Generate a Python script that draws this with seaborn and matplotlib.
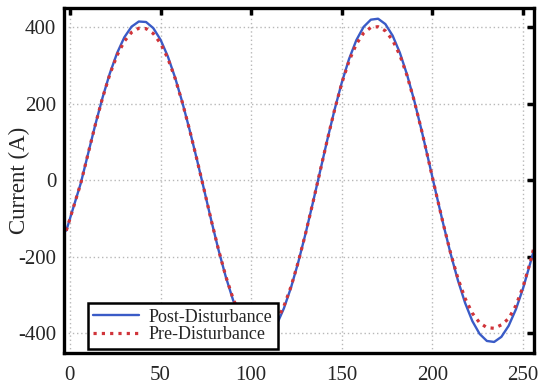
import matplotlib
matplotlib.use("Agg")
import matplotlib.pyplot as plt
import seaborn as sns
import pandas as pd

# sample index
x = [-2, 2, 6, 10, 14, 18, 22, 26, 30, 34, 38, 42, 46, 50, 54, 58, 62, 66, 70,
     74, 78, 82, 86, 90, 94, 98, 102, 106, 110, 114, 118, 122, 126, 130, 134,
     138, 142, 146, 150, 154, 158, 162, 166, 170, 174, 178, 182, 186, 190, 194, 198,
     202, 206, 210, 214, 218, 222, 226, 230, 234, 238, 242, 246, 250, 254, 256]

post = [-132, -70, -8, 68.7, 144.8, 215.7, 278.9, 332.0, 373.3, 401.2, 414.7, 413.4,
        397.4, 367.0, 323.6, 268.4, 203.7, 131.7, 55.0,
        -24.7, -105.9, -183.0, -253.1, -313.6, -361.9, -396.5, -415.9, -419.3,
        -406.6, -378.5, -335.7, -280.2, -213.9, -139.4, -59.5,
        23.0, 105.8, 184.3, 255.7, 317.0, 366.0, 400.6, 419.5, 422.0, 408.0, 377.9,
        333.1, 275.3, 206.7, 129.9, 48.1,
        -34.9, -115.9, -192.4, -261.7, -321.2, -368.6, -402.1, -420.5, -423.1,
        -409.8, -381.0, -338.0, -282.3, -215.9, -182.0]

pre = [-132, -70, -8, 68.7, 144.7, 215.0, 276.5, 326.2, 362.9, 386.3, 397.1, 396.1,
       383.2, 357.4, 318.5, 266.4, 203.2, 131.6, 55.0,
       -24.7, -105.9, -182.6, -251.8, -309.7, -353.9, -383.9, -399.9, -402.6,
       -392.3, -368.5, -330.2, -278.0, -213.3, -139.3, -59.5,
       23.0, 105.8, 184.0, 254.0, 312.0, 355.7, 384.5, 399.2, 401.1, 390.3, 365.9,
       326.7, 272.8, 206.1, 129.9, 48.1,
       -34.9, -115.7, -190.9, -256.5, -309.3, -348.0, -373.0, -385.6, -387.4,
       -378.4, -362.0, -328.0, -278.0, -213.5, -175.0]

xticks = [0, 50, 100, 150, 200, 250]
yticks = [-400, -200, 0, 200, 400]
labels = ["Post-Disturbance", "Pre-Disturbance"]

sns.set_style("white")
plt.rcParams["font.family"] = ["Liberation Serif", "DejaVu Serif"]
plt.rcParams["axes.unicode_minus"] = False

fig = plt.figure(figsize=(5.4, 3.85), dpi=100)
ax = fig.add_axes([0.1194, 0.0831, 0.8695, 0.8961])

df = pd.DataFrame({"x": x, "post": post, "pre": pre})
sns.lineplot(data=df, x="x", y="post", ax=ax, color="#3a5bc7", linewidth=1.7,
             label=labels[0], sort=False)
sns.lineplot(data=df, x="x", y="pre", ax=ax, color="#d0343a", linewidth=2.3,
             linestyle=(0, (1, 1.6)), label=labels[1], sort=False)

ax.set_xlim(-3, 256)
ax.set_ylim(-452, 450)
ax.set_xticks(xticks)
ax.set_yticks(yticks)
ax.set_xlabel("")
ax.set_ylabel("Current (A)", fontsize=16.5)
ax.yaxis.label.set_verticalalignment("center")
ax.yaxis.set_label_coords(-0.095, 0.5)
ax.grid(True, linestyle=(0, (1, 2)), color="#b8b8b8", linewidth=1.0)
ax.tick_params(direction="in", length=5, width=2.5, top=True, right=True,
               labelsize=15, color="black")
ax.tick_params(axis="y", pad=6)
ax.tick_params(axis="x", pad=9)
for s in ax.spines.values():
    s.set_linewidth(2.4)
    s.set_color("black")
    s.set_visible(True)

leg = ax.legend(loc="lower left", bbox_to_anchor=(0.05, 0.012), fontsize=13,
                frameon=True, fancybox=False, framealpha=1, edgecolor="black",
                handlelength=2.5, borderpad=0.3, labelspacing=0.05,
                handletextpad=0.55, borderaxespad=0)
leg.get_frame().set_linewidth(1.8)

fig.savefig("out.png", dpi=100)
